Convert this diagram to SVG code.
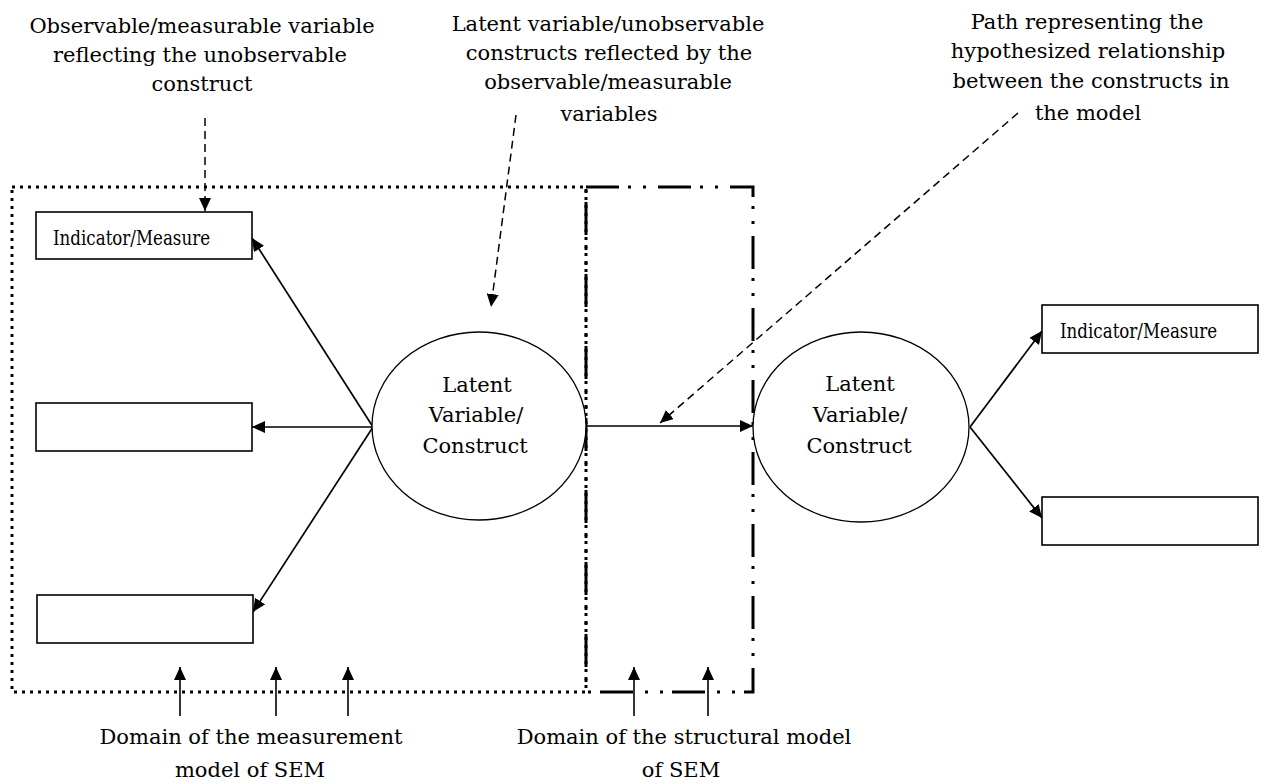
<svg xmlns="http://www.w3.org/2000/svg" width="1264" height="784" viewBox="0 0 1264 784">
  <defs>
    <marker id="head" markerUnits="userSpaceOnUse" markerWidth="14" markerHeight="12" refX="13" refY="6" orient="auto">
      <path d="M0,0 L13,6 L0,12 z" fill="#000"/>
    </marker>
    <style>
      text { font-family: "DejaVu Serif", "Liberation Serif", serif; fill: #000; }
      .lbl { font-size: 21px; text-anchor: middle; }
      .node-text { font-size: 21px; text-anchor: middle; }
      .ind { font-size: 20px; }
      .box { fill: #fff; stroke: #000; stroke-width: 1.6; }
      .oval { fill: #fff; stroke: #000; stroke-width: 1.3; }
      .link { fill: none; stroke: #000; stroke-width: 1.7; marker-end: url(#head); }
      .note { fill: none; stroke: #000; stroke-width: 1.5; stroke-dasharray: 8 5; marker-end: url(#head); }
      .domain-arrow { fill: none; stroke: #000; stroke-width: 1.6; marker-end: url(#head); }
      .measure-zone { fill: none; stroke: #000; stroke-width: 3; stroke-dasharray: 3 5; }
      .struct-zone { fill: none; stroke: #000; stroke-width: 3; stroke-dasharray: 33 9 3 12 3 12; }
    </style>
  </defs>
  <rect width="1264" height="784" fill="#fff"/>

  <!-- domain frames -->
  <g id="zones">
    <rect id="measurement-zone" class="measure-zone" x="12" y="187" width="574" height="505"/>
    <rect id="structural-zone" class="struct-zone" x="586" y="187" width="167" height="505"/>
  </g>

  <!-- connectors -->
  <g id="connectors">
    <line class="link" x1="373" y1="427" x2="252" y2="238"/>
    <line class="link" x1="373" y1="427" x2="252" y2="427"/>
    <line class="link" x1="373" y1="427" x2="253" y2="612"/>
    <line class="link" x1="587" y1="426" x2="753" y2="426"/>
    <line class="link" x1="970" y1="427" x2="1042" y2="331"/>
    <line class="link" x1="970" y1="427" x2="1042" y2="518"/>

    <line class="note" x1="205" y1="118" x2="205" y2="211"/>
    <line class="note" x1="516" y1="115" x2="491" y2="307"/>
    <line class="note" x1="1018" y1="113" x2="660" y2="423"/>

    <line class="domain-arrow" x1="180" y1="716" x2="180" y2="667"/>
    <line class="domain-arrow" x1="276" y1="716" x2="276" y2="667"/>
    <line class="domain-arrow" x1="348" y1="716" x2="348" y2="667"/>
    <line class="domain-arrow" x1="634" y1="716" x2="634" y2="667"/>
    <line class="domain-arrow" x1="708" y1="716" x2="708" y2="667"/>
  </g>

  <!-- indicators, left construct -->
  <g id="indicator-1">
    <rect class="box" x="36" y="212" width="216" height="47"/>
    <text class="ind" x="53" y="245" textLength="157" lengthAdjust="spacingAndGlyphs">Indicator/Measure</text>
  </g>
  <g id="indicator-2">
    <rect class="box" x="36" y="403" width="216" height="48"/>
  </g>
  <g id="indicator-3">
    <rect class="box" x="37" y="595" width="216" height="48"/>
  </g>

  <g id="construct-1">
    <ellipse class="oval" cx="479" cy="426" rx="107" ry="94"/>
    <text class="node-text" x="477" y="392">Latent</text>
    <text class="node-text" x="476" y="422">Variable/</text>
    <text class="node-text" x="475" y="453">Construct</text>
  </g>

  <!-- right construct and its indicators -->
  <g id="construct-2">
    <ellipse class="oval" cx="861" cy="427" rx="108" ry="95"/>
    <text class="node-text" x="860" y="391">Latent</text>
    <text class="node-text" x="860" y="422">Variable/</text>
    <text class="node-text" x="859" y="453">Construct</text>
  </g>
  <g id="indicator-4">
    <rect class="box" x="1042" y="305" width="216" height="48"/>
    <text class="ind" x="1060" y="338" textLength="157" lengthAdjust="spacingAndGlyphs">Indicator/Measure</text>
  </g>
  <g id="indicator-5">
    <rect class="box" x="1042" y="497" width="216" height="48"/>
  </g>

  <!-- callout texts -->
  <g id="note-observable">
    <text class="lbl" x="202" y="33">Observable/measurable variable</text>
    <text class="lbl" x="200" y="62">reflecting the unobservable</text>
    <text class="lbl" x="202" y="91">construct</text>
  </g>
  <g id="note-latent">
    <text class="lbl" x="608" y="31">Latent variable/unobservable</text>
    <text class="lbl" x="609" y="60">constructs reflected by the</text>
    <text class="lbl" x="608" y="89">observable/measurable</text>
    <text class="lbl" x="609" y="121">variables</text>
  </g>
  <g id="note-path">
    <text class="lbl" x="1087" y="29">Path representing the</text>
    <text class="lbl" x="1088" y="58">hypothesized relationship</text>
    <text class="lbl" x="1091" y="88">between the constructs in</text>
    <text class="lbl" x="1088" y="120">the model</text>
  </g>
  <g id="note-measurement">
    <text class="lbl" x="251" y="744">Domain of the measurement</text>
    <text class="lbl" x="250" y="777">model of SEM</text>
  </g>
  <g id="note-structural">
    <text class="lbl" x="684" y="744">Domain of the structural model</text>
    <text class="lbl" x="681" y="777">of SEM</text>
  </g>
</svg>
